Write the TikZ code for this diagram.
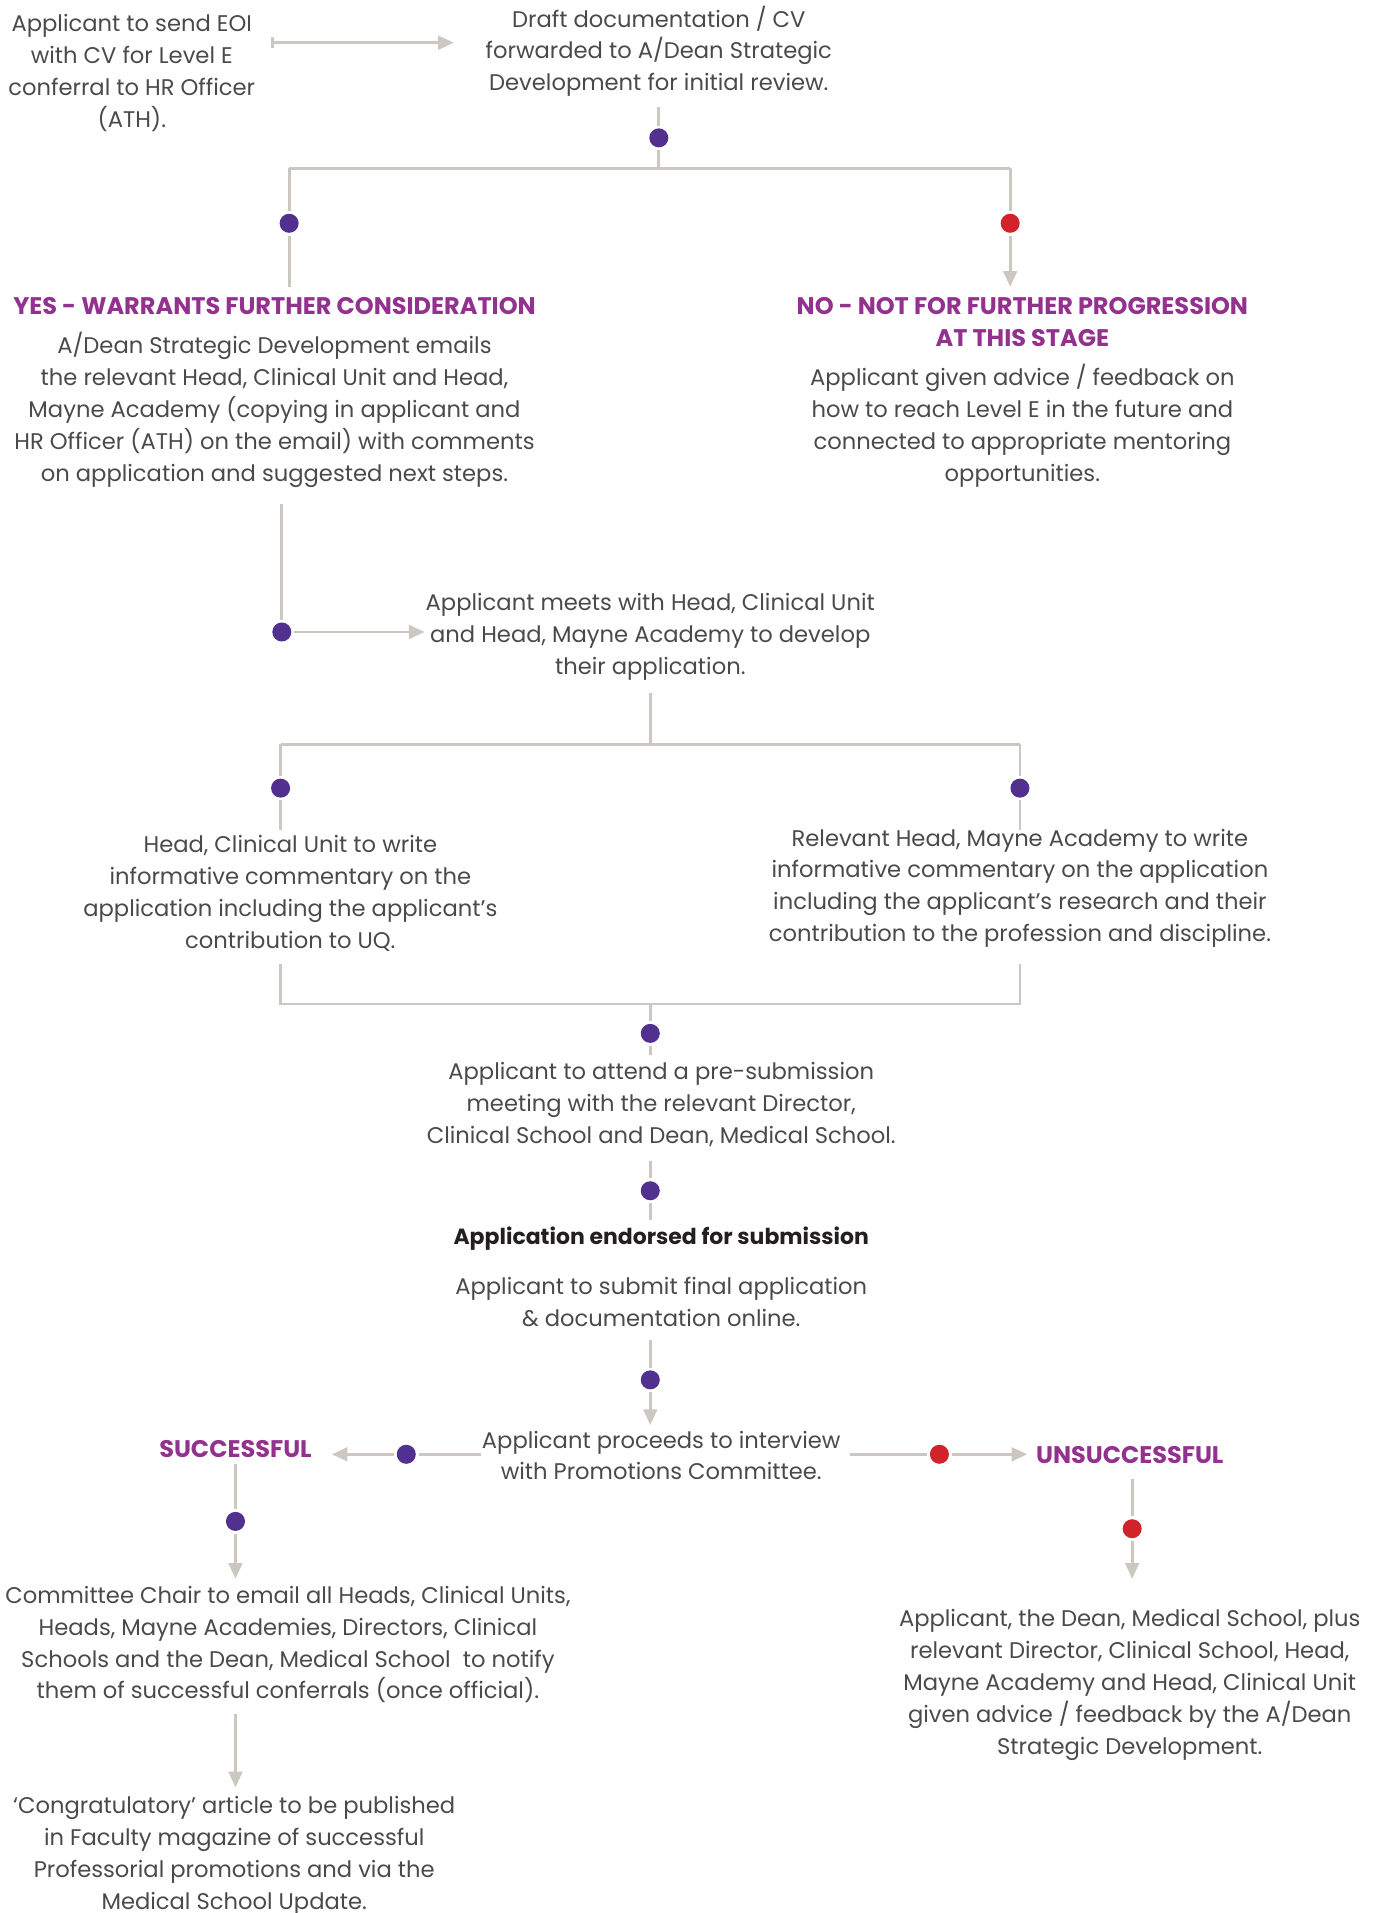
\documentclass[tikz,border=0pt]{standalone}
\usepackage{fontspec}
\setmainfont{Poppins}
\usetikzlibrary{arrows.meta}
\definecolor{linegray}{HTML}{CCC7C1}
\definecolor{dotpurple}{HTML}{52308F}
\definecolor{dotred}{HTML}{D2232A}
\definecolor{headpurple}{HTML}{93328E}
\definecolor{textgray}{HTML}{4A4A4A}
\definecolor{textdark}{HTML}{231F20}

\begin{document}
\begin{tikzpicture}[x=0.025cm,y=-0.025cm,
>={Triangle[length=0.32cm,width=0.28cm]},
txt/.style={align=center, text=textgray, inner sep=0pt, font=\fontsize{13.2}{18.6}\selectfont},
head/.style={txt, text=headpurple, font=\fontsize{14}{18.6}\selectfont\bfseries},
dot/.style={circle, fill=dotpurple, minimum size=0.39cm, inner sep=0pt, outer sep=1.6pt},
rdot/.style={dot, fill=dotred},
line/.style={draw=linegray, line width=1.6pt},
point/.style={coordinate},
]
\useasboundingbox (0,0) rectangle (1125,1568);

%start
\node (eoi) [txt] at (108,60) {Applicant to send EOI\\with CV for Level E\\conferral to HR Officer\\(ATH).};
\node (draft) [txt] at (540,42) {Draft documentation / CV\\forwarded to A/Dean Strategic\\Development for initial review.};
\node (a1) [point] at (222,35) {};
\node (a2) [point] at (372,35) {};
\draw [line,{Bar[width=0.22cm]}->] (a1)--(a2);

%first split
\node (s1) [point] at (540,88) {};
\node (d1) [dot] at (540,113) {};
\node (j1) [point] at (540,138) {};
\node (yl) [point] at (237,138) {};
\node (nl) [point] at (828,138) {};
\node (d2) [dot] at (237,183) {};
\node (d3) [rdot] at (828,183) {};
\node (e2) [point] at (237,235) {};
\node (e3) [point] at (828,235) {};
\draw [line] (s1)--(d1)--(j1);
\draw [line] (yl)--(nl);
\draw [line] (yl)--(d2)--(e2);
\draw [line,->] (nl)--(d3)--(e3);

\node (yes) [head] at (225,251) {YES - WARRANTS FURTHER CONSIDERATION};
\node (yestxt) [txt] at (225,336) {A/Dean Strategic Development emails\\the relevant Head, Clinical Unit and Head,\\Mayne Academy (copying in applicant and\\HR Officer (ATH) on the email) with comments\\on application and suggested next steps.};
\node (no) [head] at (838,264) {NO - NOT FOR FURTHER PROGRESSION\\AT THIS STAGE};
\node (notxt) [txt] at (838,349) {Applicant given advice / feedback on\\how to reach Level E in the future and\\connected to appropriate mentoring\\opportunities.};

%meeting
\node (s2) [point] at (231,413) {};
\node (d4) [dot] at (231,518) {};
\node (e4) [point] at (348,518) {};
\draw [line] (s2)--(d4);
\draw [line,->] (d4)--(e4);
\node (meet) [txt] at (533,522) {Applicant meets with Head, Clinical Unit\\and Head, Mayne Academy to develop\\their application.};

%second split
\node (s3) [point] at (533,568) {};
\node (j2) [point] at (533,610) {};
\node (l2) [point] at (230,610) {};
\node (r2) [point] at (836,610) {};
\node (d5) [dot] at (230,646) {};
\node (d6) [dot] at (836,646) {};
\node (e5) [point] at (230,680) {};
\node (e6) [point] at (836,680) {};
\draw [line] (s3)--(j2);
\draw [line] (l2)--(r2);
\draw [line] (l2)--(d5)--(e5);
\draw [line] (r2)--(d6)--(e6);
\node (cu) [txt] at (238,732) {Head, Clinical Unit to write\\informative commentary on the\\application including the applicant's\\contribution to UQ.};
\node (ma) [txt] at (836,728) {Relevant Head, Mayne Academy to write\\informative commentary on the application\\including the applicant's research and their\\contribution to the profession and discipline.};

%join
\node (l3) [point] at (230,790) {};
\node (l4) [point] at (230,823) {};
\node (r3) [point] at (836,790) {};
\node (r4) [point] at (836,823) {};
\node (j3) [point] at (533,823) {};
\node (d7) [dot] at (533,847) {};
\node (e7) [point] at (533,865) {};
\draw [line] (l3)--(l4)--(r4)--(r3);
\draw [line] (j3)--(d7)--(e7);
\node (presub) [txt] at (542,905) {Applicant to attend a pre-submission\\meeting with the relevant Director,\\Clinical School and Dean, Medical School.};

\node (s8) [point] at (533,952) {};
\node (d8) [dot] at (533,976) {};
\node (e8) [point] at (533,1000) {};
\draw [line] (s8)--(d8)--(e8);
\node (endorse) [txt, text=textdark, font=\fontsize{12.8}{18.6}\selectfont\bfseries] at (542,1015) {Application endorsed for submission};
\node (submit) [txt] at (542,1067) {Applicant to submit final application\\\& documentation online.};

\node (s9) [point] at (533,1098) {};
\node (d9) [dot] at (533,1131) {};
\node (e9) [point] at (533,1168) {};
\draw [line,->] (s9)--(d9)--(e9);
\node (interview) [txt] at (542,1193) {Applicant proceeds to interview\\with Promotions Committee.};

%outcome
\node (s10) [point] at (394,1192) {};
\node (d10) [dot] at (333,1192) {};
\node (e10) [point] at (272,1192) {};
\draw [line,->] (s10)--(d10)--(e10);
\node (succ) [head] at (193,1188) {SUCCESSFUL};
\node (s11) [point] at (697,1192) {};
\node (d11) [rdot] at (770,1192) {};
\node (e11) [point] at (842,1192) {};
\draw [line,->] (s11)--(d11)--(e11);
\node (unsucc) [head] at (926,1193) {UNSUCCESSFUL};

\node (s12) [point] at (193,1200) {};
\node (d12) [dot] at (193,1247) {};
\node (e12) [point] at (193,1294) {};
\draw [line,->] (s12)--(d12)--(e12);
\node (s13) [point] at (928,1212) {};
\node (d13) [rdot] at (928,1253) {};
\node (e13) [point] at (928,1294) {};
\draw [line,->] (s13)--(d13)--(e13);

\node (chair) [txt] at (236,1348) {Committee Chair to email all Heads, Clinical Units,\\Heads, Mayne Academies, Directors, Clinical\\Schools and the Dean, Medical School \ to notify\\them of successful conferrals (once official).};
\node (feedback) [txt] at (926,1381) {Applicant, the Dean, Medical School, plus\\relevant Director, Clinical School, Head,\\Mayne Academy and Head, Clinical Unit\\given advice / feedback by the A/Dean\\Strategic Development.};

\node (s14) [point] at (193,1405) {};
\node (e14) [point] at (193,1465) {};
\draw [line,->] (s14)--(e14);
\node (congrats) [txt] at (192,1521) {`Congratulatory' article to be published\\in Faculty magazine of successful\\Professorial promotions and via the\\Medical School Update.};
\end{tikzpicture}
\end{document}
